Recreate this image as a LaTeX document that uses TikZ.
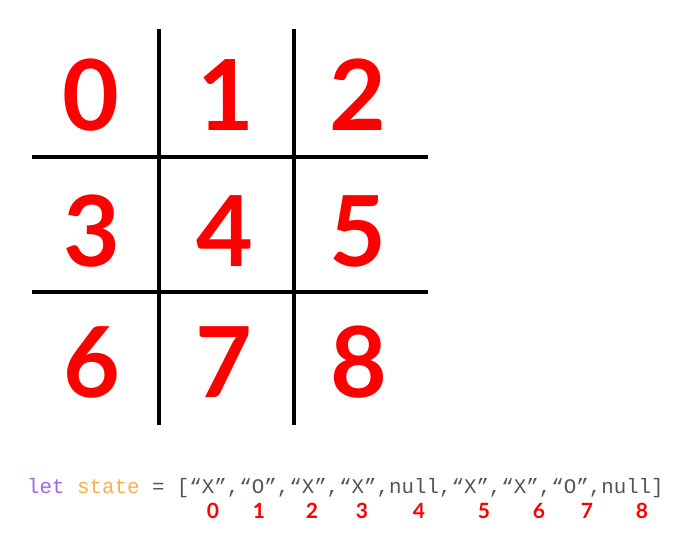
\documentclass[tikz,border=0pt]{standalone}
\usepackage{fontspec}
\setmainfont{Lato}
\newfontfamily\latobold{Lato}[UprightFont=* Bold]
\setmonofont{Liberation Mono}
\definecolor{digitred}{HTML}{FF0000}
\definecolor{kwpurple}{HTML}{A066E6}
\definecolor{varorange}{HTML}{F5B050}
\definecolor{codegray}{HTML}{555555}
\begin{document}
\begin{tikzpicture}[x=1pt,y=-1pt,
  gridline/.style={line width=4pt,black},
  celldigit/.style={anchor=base,inner sep=0pt,text=digitred,font=\fontsize{98}{98}\latobold},
  idxdigit/.style={anchor=base,inner sep=0pt,text=digitred,font=\fontsize{21}{21}\latobold},
  codeline/.style={anchor=base west,inner sep=0pt,text=codegray,font=\fontsize{20.8}{21}\ttfamily}]
\useasboundingbox (0,0) rectangle (677,549);
% grid
\coordinate (v1t) at (159,29); \coordinate (v1b) at (159,425);
\coordinate (v2t) at (294,29); \coordinate (v2b) at (294,425);
\coordinate (h1l) at (32,157); \coordinate (h1r) at (428,157);
\coordinate (h2l) at (32,292); \coordinate (h2r) at (428,292);
\draw[gridline] (v1t) -- (v1b);
\draw[gridline] (v2t) -- (v2b);
\draw[gridline] (h1l) -- (h1r);
\draw[gridline] (h2l) -- (h2r);
% cell digits
\node[celldigit] (c0) at (91,130) {0};
\node[celldigit] (c1) at (226,130) {1};
\node[celldigit] (c2) at (358,130) {2};
\node[celldigit] (c3) at (92,266) {3};
\node[celldigit] (c4) at (225,266) {4};
\node[celldigit] (c5) at (358,266) {5};
\node[celldigit] (c6) at (92,397) {6};
\node[celldigit] (c7) at (224,397) {7};
\node[celldigit] (c8) at (359,397) {8};
% code
\node[codeline] (code) at (27,493) {\textcolor{kwpurple}{let} \textcolor{varorange}{state} = [“X”,“O”,“X”,“X”,null,“X”,“X”,“O”,null]};
% indices
\node[idxdigit] (i0) at (213,518) {0};
\node[idxdigit] (i1) at (259,518) {1};
\node[idxdigit] (i2) at (312,518) {2};
\node[idxdigit] (i3) at (362,518) {3};
\node[idxdigit] (i4) at (419,518) {4};
\node[idxdigit] (i5) at (484,518) {5};
\node[idxdigit] (i6) at (539,518) {6};
\node[idxdigit] (i7) at (587,518) {7};
\node[idxdigit] (i8) at (642,518) {8};
\end{tikzpicture}
\end{document}
